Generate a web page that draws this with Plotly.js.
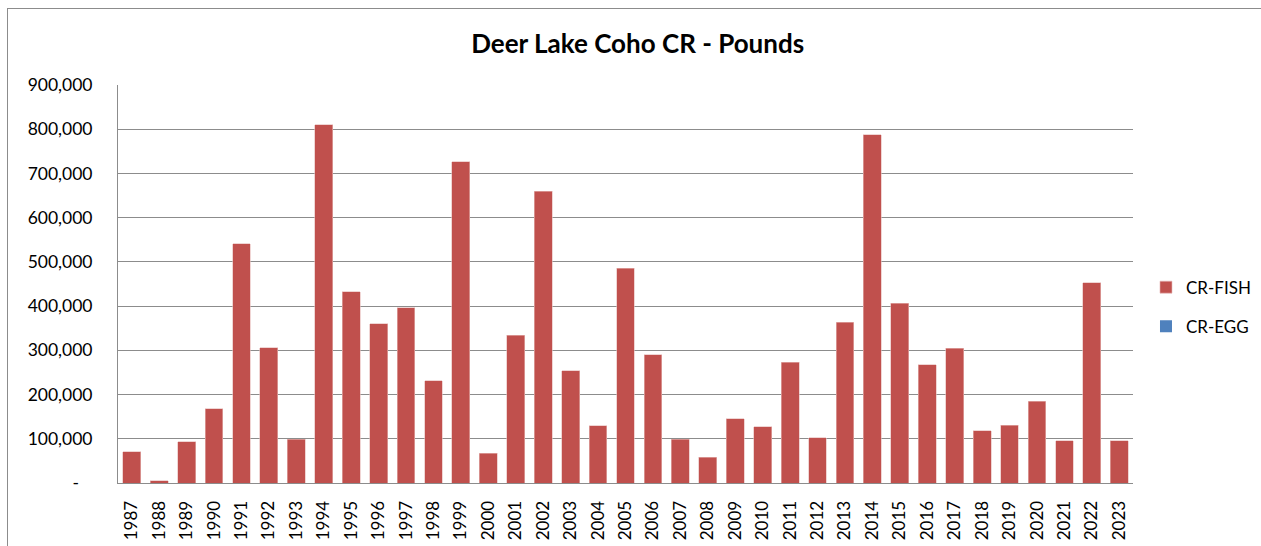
<!DOCTYPE html>
<html>
<head>
<meta charset="utf-8">
<script src="https://cdn.plot.ly/plotly-3.0.1.min.js"></script>
<style>
  html, body { margin: 0; padding: 0; background: #fff; }
  #chart { width: 1261px; height: 546px; position: absolute; left: 0; top: 0; }
  #frame { position: absolute; left: 7px; top: 8px; width: 1300px; height: 600px;
           border-left: 1px solid #8c8c8c; border-top: 1px solid #8c8c8c; pointer-events: none; }
</style>
</head>
<body>
<div id="chart"></div>
<div id="frame"></div>
<script>
const years = ["1987","1988","1989","1990","1991","1992","1993","1994","1995","1996",
  "1997","1998","1999","2000","2001","2002","2003","2004","2005","2006",
  "2007","2008","2009","2010","2011","2012","2013","2014","2015","2016",
  "2017","2018","2019","2020","2021","2022","2023"];
const crFish = [71000, 5000, 93000, 168000, 541000, 306000, 99000, 810000, 432000, 360000,
  396000, 231000, 726000, 67000, 334000, 660000, 254000, 130000, 486000, 290000,
  99500, 58000, 145000, 127000, 273000, 102000, 363000, 788000, 406000, 267000,
  305000, 118000, 131000, 185000, 95000, 453000, 95000];
const crEgg = [0,0,0,0,0,0,0,0,0,0,0,0,0,0,0,0,0,0,0,0,0,0,0,0,0,0,0,0,0,0,0,0,0,0,0,0,0];
const yTickVals = [0, 100000, 200000, 300000, 400000, 500000, 600000, 700000, 800000, 900000];
const yTickText = ["-\u00a0\u00a0\u00a0", "100,000", "200,000", "300,000", "400,000", "500,000",
  "600,000", "700,000", "800,000", "900,000"];

const font = "Lato, 'Open Sans', sans-serif";

const traces = [
  { type: "bar", name: "CR-FISH", x: years, y: crFish, legendgroup: "fish",
    marker: { color: "#c0504d", line: { color: "#e6b9b8", width: 0.6 } } },
  { type: "bar", name: "CR-EGG", x: years, y: crEgg, legendgroup: "egg",
    marker: { color: "#4f81bd" } }
];

const layout = {
  width: 1261, height: 546,
  margin: { l: 118, r: 128, t: 85, b: 63, pad: 0, autoexpand: false },
  paper_bgcolor: "#fff", plot_bgcolor: "#fff",
  barmode: "stack", bargap: 0.35,
  showlegend: true,
  title: { text: "<b>Deer Lake Coho CR - Pounds</b>", x: 0.512, xref: "paper", xanchor: "center",
           y: 0.92, yref: "container", yanchor: "middle",
           font: { family: font, size: 26, color: "#000" } },
  xaxis: { type: "category", tickangle: -90, tickfont: { family: font, size: 17, color: "#000" },
           showline: true, linecolor: "#8c8c8c", linewidth: 1, showgrid: false,
           ticks: "", ticklen: 0, ticklabelstandoff: 10, automargin: false },
  yaxis: { range: [0, 900000], tickvals: yTickVals, ticktext: yTickText,
           tickfont: { family: font, size: 17.5, color: "#000" },
           showline: true, linecolor: "#8c8c8c", linewidth: 1,
           showgrid: true, gridcolor: "#8c8c8c", gridwidth: 1,
           zeroline: false, ticks: "", ticklen: 0, ticklabelstandoff: 21, automargin: false },
  legend: { x: 1.0128, xanchor: "left", y: 0.442, yanchor: "middle",
            font: { family: font, size: 17, color: "#000" },
            traceorder: "grouped", itemwidth: 30, tracegroupgap: 14 }
};

Plotly.newPlot("chart", traces, layout, { displayModeBar: false, staticPlot: true });
</script>
</body>
</html>
